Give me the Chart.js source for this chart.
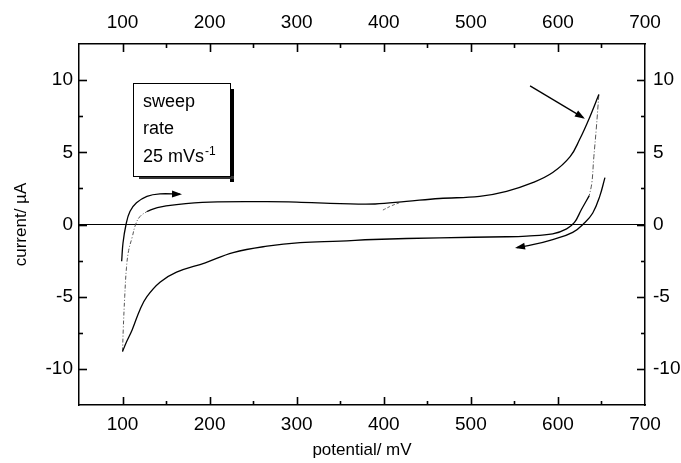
<!DOCTYPE html>
<html>
<head>
<meta charset="utf-8">
<script src="https://cdn.jsdelivr.net/npm/chart.js@4"></script>
<style>
  body { margin: 0; background: #fff; }
</style>
</head>
<body>
<canvas id="cv_chart" width="681" height="463"></canvas>
<script>
/* cyclic voltammogram, values */
const upper_x = [128, 140, 162, 200, 266, 300, 350, 390, 426, 464, 510, 541, 571, 594, 614, 625, 637, 647];
const upper_y = [0.9, 1.17, 1.38, 1.55, 1.58, 1.55, 1.45, 1.42, 1.6, 1.8, 1.95, 2.3, 2.9, 3.6, 4.7, 5.9, 7.5, 9.0];

const dash_right_x = [647, 644, 641, 639, 636];
const dash_right_y = [9.0, 6.6, 4.5, 2.9, 2.0];

const lower_x = [636, 627, 619, 610, 594, 564, 541, 464, 388, 350, 304, 266, 227, 195, 162, 143, 128, 120, 111, 104, 100];
const lower_y = [2.0, 1.04, 0.14, -0.3, -0.65, -0.8, -0.85, -0.92, -1.04, -1.15, -1.25, -1.5, -1.95, -2.65, -3.3, -4.0, -5.0, -5.9, -7.3, -8.2, -8.8];

const dash_left_x = [100, 100.8, 102.5, 104.5, 107, 111, 115, 120, 128];
const dash_left_y = [-8.8, -7.3, -5, -3, -1.8, -0.9, 0, 0.55, 0.9];

const small_dash_x = [399, 409, 420];
const small_dash_y = [1.0, 1.3, 1.55];

const zero_x = [50, 700];
const zero_y = [0, 0];

const arrow_left_x = [99, 100.5, 104, 108.5, 116, 128, 143, 166];
const arrow_left_y = [-2.55, -1.3, 0, 0.9, 1.5, 1.95, 2.12, 2.1];
const arrow_top_x = [568, 629];
const arrow_top_y = [9.6, 7.4];
const arrow_right_x = [654, 648, 640, 631, 617, 594, 571, 553];
const arrow_right_y = [3.25, 1.95, 0.8, 0.14, -0.55, -1.04, -1.4, -1.6];

const x_tick_values = [100, 150, 200, 250, 300, 350, 400, 450, 500, 550, 600, 650];
const y_tick_values = [-10, -7.5, -5, -2.5, 0, 2.5, 5, 7.5, 10];

const box_lines = ['sweep', 'rate', '25 mVs'];
const box_sup = '-1';
const x_title = 'potential/ mV';
const y_title = 'current/ µA';

const font_family = "'Liberation Sans', Arial, Helvetica, sans-serif";

function to_points(xs, ys) {
    return xs.map((x, i) => ({x: x, y: ys[i]}));
}

function line_set(xs, ys, opts) {
    return Object.assign({
        data: to_points(xs, ys),
        showLine: true,
        pointRadius: 0,
        borderColor: '#000',
        borderWidth: 1.3,
        tension: 0.4,
        fill: false
    }, opts || {});
}

let datasets = [
    line_set(upper_x, upper_y),
    line_set(dash_right_x, dash_right_y, {borderColor: '#555', borderWidth: 1, borderDash: [5, 2, 1, 2]}),
    line_set(lower_x, lower_y),
    line_set(dash_left_x, dash_left_y, {borderColor: '#555', borderWidth: 1, borderDash: [4, 2, 1, 2]}),
    line_set(small_dash_x, small_dash_y, {borderColor: '#666', borderWidth: 1, borderDash: [3, 2]}),
    line_set(zero_x, zero_y, {borderWidth: 1, tension: 0}),
    line_set(arrow_left_x, arrow_left_y, {arrow: true}),
    line_set(arrow_top_x, arrow_top_y, {arrow: true, tension: 0}),
    line_set(arrow_right_x, arrow_right_y, {arrow: true})
];

// ticks point into the plot like the original
const inner_ticks = {
    id: 'inner_ticks',
    afterDatasetsDraw(chart) {
        const ctx = chart.ctx;
        const area = chart.chartArea;
        ctx.save();
        ctx.strokeStyle = '#000';
        ctx.lineWidth = 1.6;
        ctx.setLineDash([]);
        ['x', 'x2', 'y', 'y2'].forEach(function(id) {
            let scale = chart.scales[id];
            let vals = id[0] === 'x' ? x_tick_values : y_tick_values;
            vals.forEach(function(v) {
                let major = id[0] === 'x' ? (v % 100 === 0) : (v % 5 === 0);
                let len = major ? 8 : 4;
                let p = Math.round(scale.getPixelForValue(v)) + 0.5;
                ctx.beginPath();
                if (id === 'x') { ctx.moveTo(p, area.bottom); ctx.lineTo(p, area.bottom - len); }
                if (id === 'x2') { ctx.moveTo(p, area.top); ctx.lineTo(p, area.top + len); }
                if (id === 'y') { ctx.moveTo(area.left, p); ctx.lineTo(area.left + len, p); }
                if (id === 'y2') { ctx.moveTo(area.right, p); ctx.lineTo(area.right - len, p); }
                ctx.stroke();
            });
        });
        ctx.restore();
    }
};

const arrow_heads = {
    id: 'arrow_heads',
    afterDatasetsDraw(chart) {
        const ctx = chart.ctx;
        chart.data.datasets.forEach(function(ds, i) {
            if (!ds.arrow) return;
            let pts = chart.getDatasetMeta(i).data;
            let a = pts[pts.length - 2];
            let b = pts[pts.length - 1];
            let ang = Math.atan2(b.y - a.y, b.x - a.x);
            let len = 10, half = 3.5;
            ctx.save();
            ctx.fillStyle = '#000';
            ctx.translate(b.x, b.y);
            ctx.rotate(ang);
            ctx.beginPath();
            ctx.moveTo(2, 0);
            ctx.lineTo(2 - len, -half);
            ctx.lineTo(2 - len, half);
            ctx.closePath();
            ctx.fill();
            ctx.restore();
        });
    }
};

const sweep_box = {
    id: 'sweep_box',
    afterDatasetsDraw(chart) {
        const ctx = chart.ctx;
        const xs = chart.scales.x, ys = chart.scales.y;
        let left = Math.round(xs.getPixelForValue(112));
        let right = Math.round(xs.getPixelForValue(223));
        let top = Math.round(ys.getPixelForValue(9.83));
        let bottom = Math.round(ys.getPixelForValue(3.39));
        ctx.save();
        ctx.fillStyle = '#000';
        ctx.fillRect(right, top + 6, 4, bottom - top);
        ctx.fillStyle = '#333';
        ctx.fillRect(left + 6, bottom, right - left - 2, 3);
        ctx.fillStyle = '#fff';
        ctx.fillRect(left, top, right - left, bottom - top);
        ctx.strokeStyle = '#000';
        ctx.lineWidth = 1;
        ctx.strokeRect(left + 0.5, top + 0.5, right - left, bottom - top);
        ctx.fillStyle = '#000';
        ctx.textBaseline = 'alphabetic';
        ctx.font = '18px ' + font_family;
        let tx = left + 10;
        let ty = top + 23.5;
        for (let k = 0; k < box_lines.length; k++) {
            ctx.fillText(box_lines[k], tx, ty + k * 27.5);
        }
        let w = ctx.measureText(box_lines[2]).width;
        ctx.font = '12px ' + font_family;
        ctx.fillText(box_sup, tx + w + 1, ty + 2 * 27.5 - 7);
        ctx.restore();
    }
};

function axis_ticks(step, major, pad) {
    return {
        stepSize: step,
        autoSkip: false,
        maxRotation: 0,
        padding: pad,
        color: '#000',
        font: {family: font_family, size: 19},
        callback: function(v) { return v % major === 0 ? v : ''; }
    };
}

const no_grid = {display: false, drawTicks: false};
const axis_border = {display: true, color: '#000', width: 1.5};

new Chart(document.getElementById('cv_chart').getContext('2d'), {
    type: 'scatter',
    data: {datasets: datasets},
    options: {
        responsive: false,
        animation: false,
        devicePixelRatio: 1,
        layout: {padding: 0},
        plugins: {legend: {display: false}, tooltip: {enabled: false}},
        scales: {
            x: {
                type: 'linear', position: 'bottom', min: 50, max: 700,
                ticks: axis_ticks(50, 100, 8),
                grid: no_grid, border: axis_border,
                title: {display: true, text: x_title, color: '#000',
                    font: {family: font_family, size: 17}, padding: {top: 0, bottom: 2}},
                afterFit: function(s) { s.height = 58; }
            },
            x2: {
                type: 'linear', position: 'top', min: 50, max: 700,
                ticks: axis_ticks(50, 100, 10),
                grid: no_grid, border: axis_border,
                afterFit: function(s) { s.height = 44; }
            },
            y: {
                type: 'linear', position: 'left', min: -12.5, max: 12.5,
                ticks: axis_ticks(2.5, 5, 6),
                grid: no_grid, border: axis_border,
                title: {display: true, text: y_title, color: '#000',
                    font: {family: font_family, size: 17}, padding: {top: 11, bottom: 0}},
                afterFit: function(s) { s.width = 79; }
            },
            y2: {
                type: 'linear', position: 'right', min: -12.5, max: 12.5,
                ticks: axis_ticks(2.5, 5, 8),
                grid: no_grid, border: axis_border,
                afterFit: function(s) { s.width = 36; }
            }
        }
    },
    plugins: [inner_ticks, arrow_heads, sweep_box]
});
</script>
</body>
</html>
